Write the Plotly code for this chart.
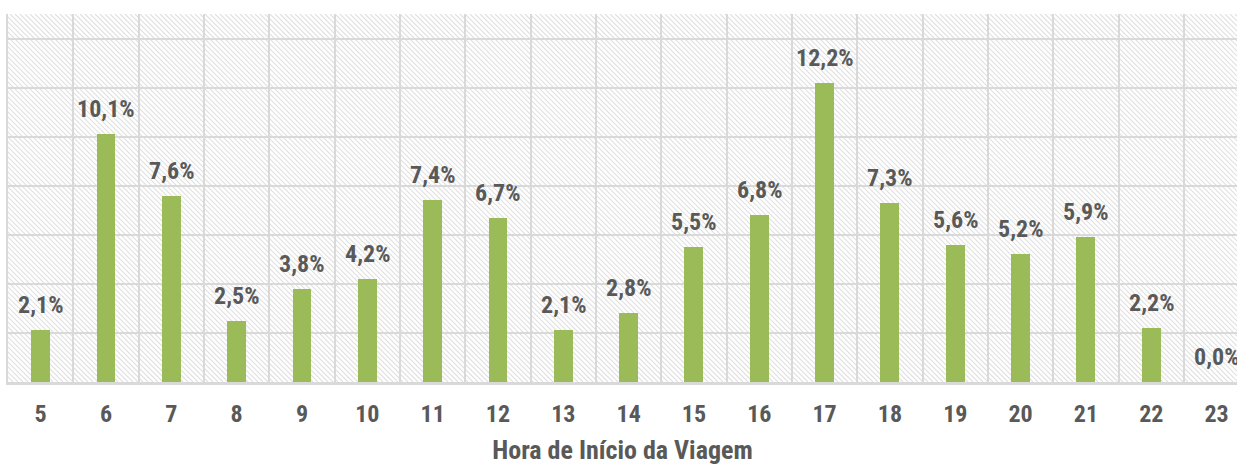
import plotly.graph_objects as go

hours = [5, 6, 7, 8, 9, 10, 11, 12, 13, 14, 15, 16, 17, 18, 19, 20, 21, 22, 23]
shares = [2.1, 10.1, 7.6, 2.5, 3.8, 4.2, 7.4, 6.7, 2.1, 2.8, 5.5, 6.8, 12.2, 7.3, 5.6, 5.2, 5.9, 2.2, 0.0]
x_title = "Hora de Início da Viagem"
labels = [f"{v:.1f}%".replace(".", ",") for v in shares]

FONT = "Liberation Sans Narrow, Arial Narrow, Roboto Condensed, sans-serif"
TXT = "#595959"
GRID = "#d9d9d9"
BAR = "#9BBB59"

W, H = 1237, 466
ML, MR, MT, MB = 8, 0, 14, 84
pw, ph = W - ML - MR, H - MT - MB
px_per_x = 65.33
x0 = hours[0] - 0.5
x1 = x0 + pw / px_per_x
y0, y1 = 0, 15
px_per_y = ph / (y1 - y0)

# hatch background (decoration) as one path, data coords so it is clipped
step = 5.0
segs = []
c = -ph
while c < pw:
    ax_, ay_ = c, 0
    bx_, by_ = c + ph, ph
    segs.append(
        f"M{x0 + ax_ / px_per_x:.4f},{y1 - ay_ / px_per_y:.4f}"
        f"L{x0 + bx_ / px_per_x:.4f},{y1 - by_ / px_per_y:.4f}"
    )
    c += step
hatch = dict(type="path", xref="x", yref="y", path="".join(segs),
             line=dict(color="#e0e0e0", width=1.1), layer="below")

fig = go.Figure()
fig.add_trace(go.Bar(x=hours, y=shares, width=0.29, marker=dict(color=BAR, line=dict(width=0)),
                     hoverinfo="skip"))

for h, v, t in zip(hours, shares, labels):
    fig.add_annotation(x=h, y=v, text=f"<b>{t}</b>", showarrow=False, yanchor="bottom",
                       yshift=9, font=dict(family=FONT, size=24, color=TXT))

fig.update_layout(
    width=W, height=H,
    margin=dict(l=ML, r=MR, t=MT, b=MB, autoexpand=False),
    paper_bgcolor="white", plot_bgcolor="white",
    showlegend=False,
    shapes=[hatch],
    bargap=0,
)
fig.update_xaxes(
    range=[x0, x1], tickmode="array", tickvals=hours,
    ticktext=[f"<b>{h}</b>" for h in hours],
    tickfont=dict(family=FONT, size=24, color=TXT),
    showgrid=False, zeroline=False, automargin=False,
    ticks="", ticklabelstandoff=8,
    showline=True, linecolor=GRID, linewidth=3,
    minor=dict(tickmode="array", tickvals=[h - 0.5 for h in hours] + [hours[-1] + 0.5],
               showgrid=True, gridcolor=GRID, gridwidth=2, ticks=""),
    title=dict(text=f"<b>{x_title}</b>", font=dict(family=FONT, size=26, color=TXT), standoff=15),
)
fig.update_yaxes(
    range=[y0, y1], dtick=2, tick0=0, showticklabels=False, automargin=False,
    showgrid=True, gridcolor=GRID, gridwidth=2, zeroline=False,
    showline=True, linecolor=GRID, linewidth=2, ticks="",
)

fig.write_html("out.html", config={"displayModeBar": False},
               post_script="document.body.style.margin='0';document.body.style.overflow='hidden';")
